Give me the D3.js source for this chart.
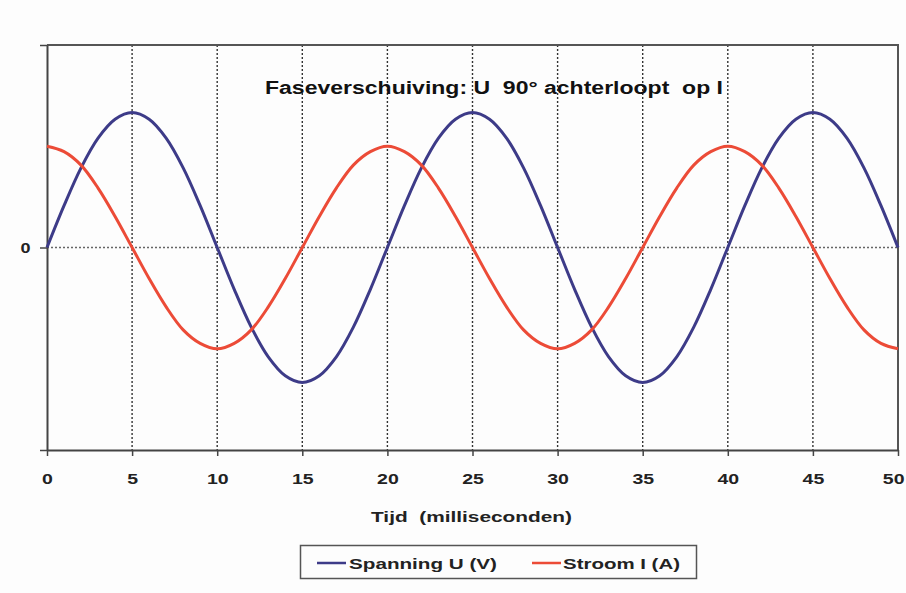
<!DOCTYPE html>
<html>
<head>
<meta charset="utf-8">
<script src="https://cdn.jsdelivr.net/npm/d3@7"></script>
<style>
  html, body { margin: 0; padding: 0; background: #fdfdfd; }
  svg { display: block; font-family: "Liberation Sans", Arial, sans-serif; }
</style>
</head>
<body>
<svg id="chart" width="906" height="593"></svg>
<script>
// Time in milliseconds, one sample per ms
const time = d3.range(0, 51);

// Voltage U (V), sampled every ms
const voltage = [
  0, 0.31, 0.59, 0.81, 0.95, 1, 0.95, 0.81, 0.59, 0.31,
  0, -0.31, -0.59, -0.81, -0.95, -1, -0.95, -0.81, -0.59, -0.31,
  0, 0.31, 0.59, 0.81, 0.95, 1, 0.95, 0.81, 0.59, 0.31,
  0, -0.31, -0.59, -0.81, -0.95, -1, -0.95, -0.81, -0.59, -0.31,
  0, 0.31, 0.59, 0.81, 0.95, 1, 0.95, 0.81, 0.59, 0.31,
  0
];

// Current I (A), sampled every ms
const current = [
  0.75, 0.71, 0.61, 0.44, 0.23, 0, -0.23, -0.44, -0.61, -0.71,
  -0.75, -0.71, -0.61, -0.44, -0.23, 0, 0.23, 0.44, 0.61, 0.71,
  0.75, 0.71, 0.61, 0.44, 0.23, 0, -0.23, -0.44, -0.61, -0.71,
  -0.75, -0.71, -0.61, -0.44, -0.23, 0, 0.23, 0.44, 0.61, 0.71,
  0.75, 0.71, 0.61, 0.44, 0.23, 0, -0.23, -0.44, -0.61, -0.71,
  -0.75
];

const xTicks = [0, 5, 10, 15, 20, 25, 30, 35, 40, 45, 50];
const yTicks = [-1.5, 0, 1.5];
const yTickLabels = ["", "0", ""];

const title = "Faseverschuiving: U\u00a0 90\u00b0 achterloopt\u00a0 op I";
const xTitle = "Tijd\u00a0 (milliseconden)";
const seriesNames = ["Spanning U (V)", "Stroom I (A)"];
const seriesColors = ["#3d3b88", "#ec4b37"];

const svg = d3.select("#chart");
const plot = { left: 47, right: 898, top: 45, bottom: 450 };

const x = d3.scaleLinear().domain([0, 50]).range([plot.left, plot.right]);
const y = d3.scaleLinear().domain([-1.5, 1.5]).range([plot.bottom, plot.top]);

// Vertical dotted gridlines at each labelled time
svg.append("g")
  .selectAll("line")
  .data(xTicks.slice(1, -1))
  .join("line")
  .attr("x1", d => x(d)).attr("x2", d => x(d))
  .attr("y1", plot.top).attr("y2", plot.bottom)
  .attr("stroke", "#333")
  .attr("stroke-width", 1.4)
  .attr("stroke-dasharray", "2,2");

// Horizontal dotted line at zero
svg.append("line")
  .attr("x1", plot.left).attr("x2", plot.right)
  .attr("y1", y(0)).attr("y2", y(0))
  .attr("stroke", "#666")
  .attr("stroke-width", 1.6)
  .attr("stroke-dasharray", "2,2");

// Frame: top and right edges
svg.append("path")
  .attr("d", `M${plot.left},${plot.top}H${plot.right}V${plot.bottom}`)
  .attr("fill", "none")
  .attr("stroke", "#555")
  .attr("stroke-width", 2);

const labelFont = sel => sel
  .attr("font-size", 15).attr("font-weight", "bold").attr("fill", "#222")
  .attr("font-family", "Liberation Sans, Arial, sans-serif");

// Axes
const xAxis = svg.append("g")
  .attr("transform", `translate(0,${plot.bottom})`)
  .call(d3.axisBottom(x).tickValues(xTicks).tickSize(6).tickPadding(17).tickSizeOuter(0));
xAxis.select(".domain").attr("stroke", "#444").attr("stroke-width", 2);
xAxis.selectAll(".tick line").attr("stroke", "#444").attr("stroke-width", 1.5);
xAxis.selectAll(".tick text").call(labelFont).attr("transform", "scale(1.3,1)");
// The last label sits against the right edge of the page
xAxis.selectAll(".tick text").filter(d => d === 50)
  .attr("text-anchor", "end").attr("x", 6 / 1.3);

const yAxis = svg.append("g")
  .attr("transform", `translate(${plot.left},0)`)
  .call(d3.axisLeft(y).tickValues(yTicks).tickFormat((d, i) => yTickLabels[i])
    .tickSize(7).tickPadding(11).tickSizeOuter(0));
yAxis.select(".domain").attr("stroke", "#444").attr("stroke-width", 2);
yAxis.selectAll(".tick line").attr("stroke", "#444").attr("stroke-width", 1.5);
yAxis.selectAll(".tick text").call(labelFont).attr("text-anchor", "middle")
  .attr("transform", "scale(1.2,1)");

// Series lines
const line = d3.line().x((d, i) => x(time[i])).y(d => y(d)).curve(d3.curveCatmullRom);
[voltage, current].forEach((vals, k) => {
  svg.append("path")
    .datum(vals)
    .attr("d", line)
    .attr("fill", "none")
    .attr("stroke", seriesColors[k])
    .attr("stroke-width", 3)
    .attr("stroke-linejoin", "round");
});

// Title inside the plot
svg.append("text")
  .attr("x", 265).attr("y", 94)
  .attr("font-size", 18).attr("font-weight", "bold").attr("fill", "#111")
  .attr("textLength", 458).attr("lengthAdjust", "spacingAndGlyphs")
  .text(title);

// X axis title
svg.append("text")
  .attr("x", 371).attr("y", 522)
  .attr("font-size", 15.5).attr("font-weight", "bold").attr("fill", "#222")
  .attr("textLength", 201).attr("lengthAdjust", "spacingAndGlyphs")
  .text(xTitle);

// Legend
const legend = svg.append("g");
legend.append("rect")
  .attr("x", 300.5).attr("y", 545.5).attr("width", 396).attr("height", 33)
  .attr("fill", "#fdfdfd").attr("stroke", "#555").attr("stroke-width", 1.5);
const legendItems = [
  { lx: 317, tx: 349, w: 148 },
  { lx: 532, tx: 563, w: 117 }
];
legendItems.forEach((it, k) => {
  legend.append("line")
    .attr("x1", it.lx).attr("x2", it.lx + 29)
    .attr("y1", 563).attr("y2", 563)
    .attr("stroke", seriesColors[k]).attr("stroke-width", 2.5);
  legend.append("text")
    .attr("x", it.tx).attr("y", 569)
    .attr("font-size", 15.5).attr("font-weight", "bold").attr("fill", "#222")
    .attr("textLength", it.w).attr("lengthAdjust", "spacingAndGlyphs")
    .text(seriesNames[k]);
});
</script>
</body>
</html>
